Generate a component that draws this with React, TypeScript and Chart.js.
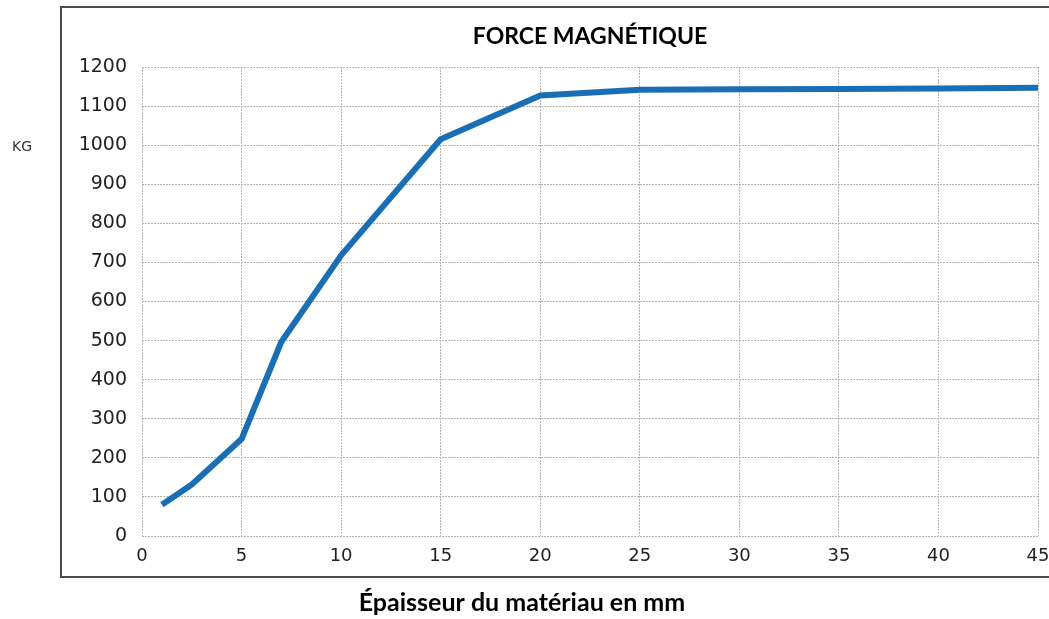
import React, { useEffect, useRef } from "react";
import { Chart, registerables } from "chart.js";

Chart.register(...registerables);

const thicknessMm = [1, 2.5, 5, 7, 10, 15, 20, 25, 30, 35, 40, 45];
const forceKg = [80, 132, 248, 497, 718, 1015, 1127, 1142, 1143, 1144, 1145, 1147];
const chartTitle = "FORCE MAGNÉTIQUE";
const xAxisTitle = "Épaisseur du matériau en mm";
const yAxisTitle = "KG";

const decorPlugin = {
  id: "decor",
  beforeDraw(chart: any) {
    const ctx = chart.ctx;
    ctx.save();
    ctx.fillStyle = "#ffffff";
    ctx.fillRect(0, 0, chart.width, chart.height);
    ctx.restore();
  },
  afterDraw(chart: any) {
    const ctx = chart.ctx;
    const area = chart.chartArea;
    ctx.save();
    ctx.strokeStyle = "#4a4a4a";
    ctx.lineWidth = 2;
    ctx.beginPath();
    ctx.moveTo(chart.width + 5, 7);
    ctx.lineTo(61, 7);
    ctx.lineTo(61, 577);
    ctx.lineTo(chart.width + 5, 577);
    ctx.stroke();

    ctx.fillStyle = "#000000";
    ctx.textAlign = "center";
    ctx.textBaseline = "middle";
    ctx.font = "bold 23px Lato";
    ctx.fillText(chartTitle, (area.left + area.right) / 2, 37);
    ctx.font = "bold 25px Lato";
    ctx.fillText(xAxisTitle, 522, 603);

    ctx.fillStyle = "#333333";
    ctx.font = "14px 'DejaVu Sans'";
    ctx.fillText(yAxisTitle, 22, 147);
    ctx.restore();
  },
};

export default function App() {
  const ref = useRef<HTMLCanvasElement | null>(null);
  useEffect(() => {
    if (!ref.current) return;
    const points = thicknessMm.map((x, i) => ({ x, y: forceKg[i] }));
    const grid = {
      color: "#b4b4b4",
      lineWidth: 1,
      drawTicks: false,
    };
    const chart = new Chart(ref.current, {
      type: "line",
      data: {
        datasets: [
          {
            data: points,
            borderColor: "#1a6fb4",
            borderWidth: 6,
            pointRadius: 0,
            tension: 0,
            fill: false,
            borderJoinStyle: "round",
            borderCapStyle: "butt",
          },
        ],
      },
      options: {
        responsive: false,
        animation: false,
        devicePixelRatio: 1,
        layout: { padding: { top: 67, right: 11, left: 0, bottom: 0 } },
        plugins: {
          legend: { display: false },
          tooltip: { enabled: false },
          title: { display: false },
        },
        scales: {
          x: {
            type: "linear",
            min: 0,
            max: 45,
            ticks: {
              stepSize: 5,
              padding: 10,
              color: "#222222",
              font: { family: "'DejaVu Sans'", size: 18 },
              maxRotation: 0,
              callback: (v: any) => String(v),
            },
            grid: grid as any,
            border: { display: false, dash: [2, 1] },
            afterFit: (s: any) => {
              s.height = 83;
              s.paddingRight = 0;
              s.paddingLeft = 0;
            },
          },
          y: {
            type: "linear",
            min: 0,
            max: 1200,
            ticks: {
              stepSize: 100,
              padding: 15,
              color: "#222222",
              font: { family: "'DejaVu Sans'", size: 19 },
              callback: (v: any) => String(v),
            },
            grid: grid as any,
            border: { display: false, dash: [2, 1] },
            afterFit: (s: any) => {
              s.width = 142;
              s.paddingTop = 0;
              s.paddingBottom = 0;
            },
          },
        },
      },
      plugins: [decorPlugin],
    } as any);
    return () => chart.destroy();
  }, []);
  return (
    <div style={{ position: "fixed", left: 0, top: 0, width: 1049, height: 619, background: "#fff" }}>
      <canvas ref={ref} width={1049} height={619} style={{ display: "block" }} />
    </div>
  );
}
